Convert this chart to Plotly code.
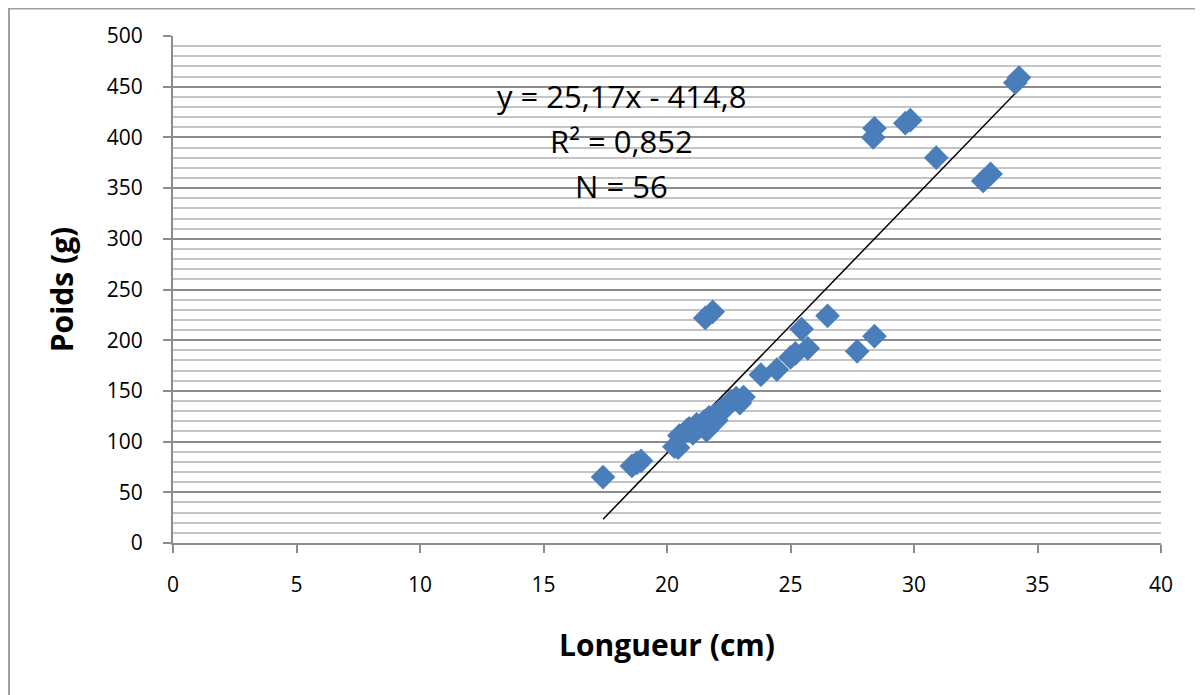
import plotly.graph_objects as go

# Longueur (cm) et poids (g)
longueur = [
    17.41, 18.58, 18.78, 18.95,
    20.3, 20.45, 20.5, 20.8, 21.05, 21.3, 21.6, 21.7, 22.0, 22.1,
    22.4, 22.8, 22.95, 23.1, 20.9, 21.2, 21.5, 21.9, 22.2, 22.6,
    21.55, 21.85,
    23.8, 24.45, 25.0, 25.2, 25.7, 25.45, 26.5,
    27.7, 28.4,
    28.35, 28.4, 29.85, 29.65, 30.9, 32.8, 33.1, 34.1, 34.25,
]
poids = [
    65, 76, 79, 81,
    95, 94, 106, 111, 108, 114, 111, 124, 121, 129,
    134, 143, 138, 144, 113, 117, 120, 126, 131, 140,
    222, 228,
    166, 171, 183, 187, 192, 211, 224,
    189, 204,
    400, 409, 417, 414, 380, 357, 364, 454, 459,
]

# régression affichée sur le graphique
pente = 25.17
origine = -414.8
equation = ["y = 25,17x - 414,8", "R² = 0,852", "N = 56"]

FONT = "Open Sans"


def main():
    fig = go.Figure()

    x_min, x_max = min(longueur), max(longueur)
    fig.add_trace(
        go.Scatter(
            x=[x_min, x_max],
            y=[pente * x_min + origine, pente * x_max + origine],
            mode="lines",
            line=dict(color="black", width=1.5),
            showlegend=False,
        )
    )
    fig.add_trace(
        go.Scatter(
            x=longueur,
            y=poids,
            mode="markers",
            marker=dict(symbol="diamond", size=19, color="#4a7ebb"),
            showlegend=False,
        )
    )

    for i, line in enumerate(equation):
        fig.add_annotation(
            x=0.454, y=0.881 - i * 0.088, xref="paper", yref="paper",
            xanchor="center", yanchor="middle",
            text=line, showarrow=False,
            font=dict(family=FONT, size=31, color="black"),
        )

    # cadre extérieur
    fig.add_shape(
        type="rect", xref="paper", yref="paper",
        x0=-0.166, x1=1.2, y0=-0.5, y1=1.054,
        line=dict(color="#a0a0a0", width=2),
    )

    fig.update_xaxes(
        range=[0, 40], dtick=5, tick0=0,
        showgrid=False, zeroline=False,
        showline=True, linecolor="#8c8c8c", linewidth=2,
        ticks="outside", ticklen=8, tickcolor="#8c8c8c", tickwidth=2,
        ticklabelstandoff=14,
        tickfont=dict(family=FONT, size=21, color="black"),
        title=dict(text="<b>Longueur (cm)</b>", font=dict(family=FONT, size=30, color="black"), standoff=38),
    )
    fig.update_yaxes(
        range=[0, 500], dtick=50, tick0=0,
        showgrid=True, gridcolor="#8c8c8c", gridwidth=1.5,
        minor=dict(dtick=10, showgrid=True, gridcolor="#c4c4c4", gridwidth=1.5),
        zeroline=False,
        showline=True, linecolor="#8c8c8c", linewidth=2,
        ticks="outside", ticklen=8, tickcolor="#8c8c8c", tickwidth=2,
        ticklabelstandoff=16,
        tickfont=dict(family=FONT, size=21, color="black"),
        title=dict(text="<b>Poids (g)</b>", font=dict(family=FONT, size=30, color="black"), standoff=24),
    )

    fig.update_layout(
        width=1195, height=687,
        margin=dict(l=165, r=42, t=28, b=152),
        plot_bgcolor="white", paper_bgcolor="white",
    )

    fig.write_html("out.html")


if __name__ == "__main__":
    main()
